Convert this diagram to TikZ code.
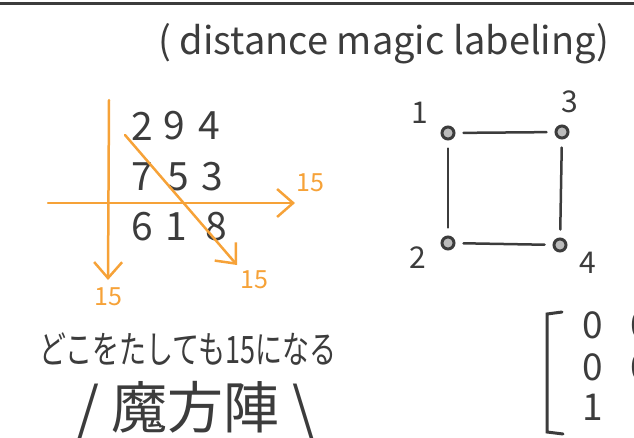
\documentclass[tikz,border=0pt]{standalone}
\usepackage{fontspec}
\setmainfont{Noto Sans CJK JP}
\usepackage{xcolor}
\usepackage{tikz}
\usetikzlibrary{arrows.meta, positioning}

\definecolor{ink}{HTML}{3C3C3C}
\definecolor{marker}{HTML}{F6A238}

\begin{document}
\begin{tikzpicture}[x=1pt, y=-1pt, line cap=round,
    digit/.style={text=ink, font=\fontsize{39}{44}\selectfont, inner sep=0pt},
    sumline/.style={draw=marker, line width=2.5pt, -{Straight Barb[length=16pt, width=28pt]}},
    sumlabel/.style={text=marker, font=\fontsize{25}{28}\selectfont, inner sep=1pt},
    vertex/.style={circle, draw=ink, fill=ink!35, line width=3pt, minimum size=12pt, inner sep=0pt},
    edge/.style={draw=ink, line width=2.5pt, shorten <=8pt, shorten >=8pt},
    vlabel/.style={text=ink, font=\fontsize{30}{34}\selectfont, inner sep=0pt}]
    \clip (0,0) rectangle (634,437);

    % Linie oben
    \draw[ink, line width=3pt] (0,3) -- (634,3);
    \node[text=ink, font=\fontsize{38}{44}\selectfont] (title) at (384,44) {( distance magic labeling)};

    % Zahlenquadrat
    \node[digit] (sq11) at (142,126) {2};
    \node[digit] (sq12) at (174,126) {9};
    \node[digit] (sq13) at (209,126) {4};
    \node[digit] (sq21) at (142,177) {7};
    \node[digit] (sq22) at (178,177) {5};
    \node[digit] (sq23) at (212,177) {3};
    \node[digit] (sq31) at (142,227) {6};
    \node[digit] (sq32) at (176,227) {1};
    \node[digit] (sq33) at (216,227) {8};

    % Summenpfeile
    \coordinate (vstart) at (109,100);
    \coordinate (vend) at (108,280);
    \coordinate (hstart) at (48,203);
    \coordinate (hend) at (295,203);
    \coordinate (dstart) at (125,135);
    \coordinate (dend) at (237,265);
    \draw[sumline] (vstart) -- (vend);
    \draw[sumline] (hstart) -- (hend);
    \draw[sumline] (dstart) -- (dend);
    \node[sumlabel, below=6pt of vend] (vsum) {15};
    \node[sumlabel, above right=10pt and 0pt of hend] (hsum) {15};
    \node[sumlabel, below right=4pt and 2pt of dend] (dsum) {15};

    \node[text=ink, font=\fontsize{27}{32}\selectfont] (note) at (188,349) {\scalebox{1}[1.4]{どこをたしても15になる}};
    \node[text=ink, font=\fontsize{56}{64}\selectfont] (name) at (196,410) {/\hspace{13pt}魔方陣\hspace{13pt}\textbackslash};

    % Graph
    \node[vertex] (v1) at (448,133) {};
    \node[vertex] (v3) at (562,132) {};
    \node[vertex] (v2) at (448,243) {};
    \node[vertex] (v4) at (560,245) {};
    \node[vlabel] (l1) at (420,113) {1};
    \node[vlabel] (l3) at (570,102) {3};
    \node[vlabel] (l2) at (418,258) {2};
    \node[vlabel] (l4) at (588,263) {4};
    \draw[edge] (v1) -- (v3);
    \draw[edge] (v1) -- (v2);
    \draw[edge] (v3) -- (v4);
    \draw[edge] (v2) -- (v4);

    % Matrix
    \coordinate (btop) at (562,312);
    \coordinate (bbot) at (563,434);
    \draw[ink, line width=3pt] (btop) -- (547,314) -- (547,432) -- (bbot);
    \node[digit, font=\fontsize{37}{42}\selectfont] (m11) at (593,325) {0};
    \node[digit, font=\fontsize{37}{42}\selectfont] (m21) at (593,367) {0};
    \node[digit, font=\fontsize{37}{42}\selectfont] (m31) at (593,407) {1};
    \node[digit, font=\fontsize{37}{42}\selectfont] (m12) at (641,325) {0};
    \node[digit, font=\fontsize{37}{42}\selectfont] (m22) at (641,367) {0};
\end{tikzpicture}
\end{document}
